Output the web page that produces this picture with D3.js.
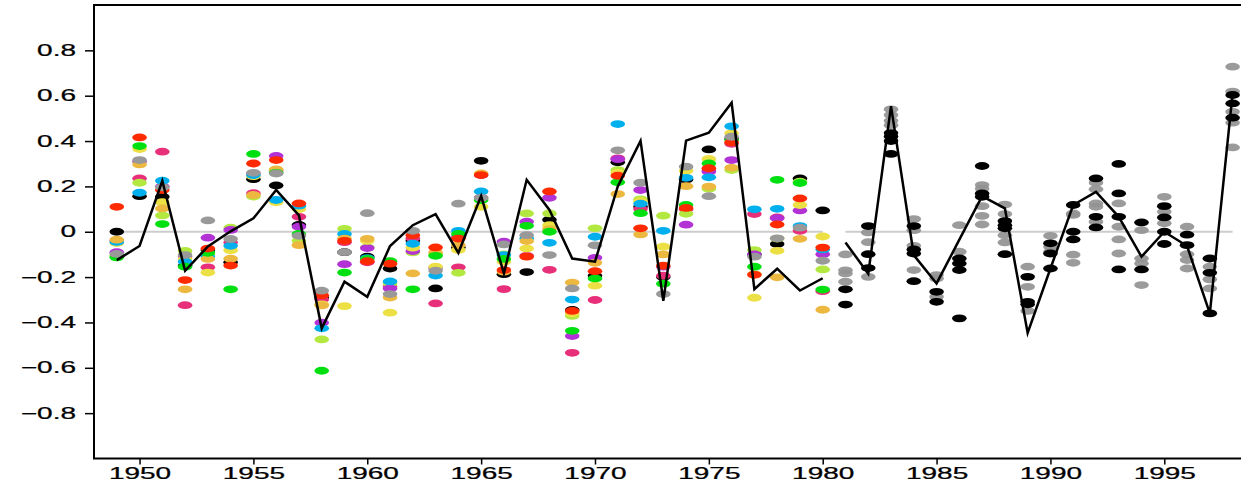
<!DOCTYPE html>
<html>
<head>
<meta charset="utf-8">
<script src="https://cdn.jsdelivr.net/npm/d3@7"></script>
<style>
  html, body { margin: 0; padding: 0; background: #fff; }
  svg { display: block; }
  text { font-family: "Liberation Sans", Arial, sans-serif; }
</style>
</head>
<body>
<svg id="chart" width="1241" height="488"></svg>
<script>
// ---------- DATA ----------
const years1 = d3.range(1949, 1981);   // 1949..1980
const years2 = d3.range(1981, 1999);   // 1981..1998

const seriesNames = ["black", "pink", "lime", "purple", "yellow", "cyan", "gold", "green", "red", "gray"];
const seriesColors = {
  red: "#ff2a00", green: "#00e010", yellow: "#ece044", gray: "#999999", gold: "#ecb840",
  pink: "#e8307a", lime: "#b2e840", cyan: "#00b0ee", purple: "#b232d6", black: "#000000"
};

const red    = [0.11,0.416,0.184,-0.213,-0.074,-0.149,0.301,0.316,0.125,-0.28,-0.04,-0.13,-0.141,-0.015,-0.069,-0.03,0.25,-0.169,-0.11,0.178,-0.349,-0.174,0.247,0.015,-0.15,0.105,0.28,0.395,-0.19,0.032,0.147,-0.07];
const green  = [-0.113,0.378,0.034,-0.154,-0.093,-0.254,0.343,0.26,-0.01,-0.613,-0.18,-0.12,-0.13,-0.254,-0.106,-0.01,0.14,-0.12,0.026,0.0,-0.437,-0.206,0.218,0.082,-0.229,0.118,0.301,0.405,-0.154,0.229,0.215,-0.255];
const yellow = [-0.05,0.365,0.13,-0.12,-0.18,-0.082,0.245,0.13,0.1,-0.32,-0.328,-0.04,-0.357,-0.07,-0.154,-0.081,0.11,-0.132,-0.074,0.029,-0.36,-0.238,0.26,0.135,-0.066,0.269,0.321,0.434,-0.291,-0.084,0.118,-0.021];
const gray   = [-0.098,0.316,0.196,-0.103,0.05,-0.032,0.26,0.257,-0.018,-0.26,-0.09,0.082,-0.275,0.004,-0.172,0.124,0.149,-0.056,-0.015,-0.103,-0.25,-0.06,0.359,0.216,-0.275,0.287,0.157,0.419,-0.11,-0.029,0.018,-0.128];
const gold   = [-0.035,0.297,0.103,-0.254,-0.12,-0.119,0.162,0.275,-0.059,-0.325,-0.03,-0.031,-0.29,-0.184,-0.091,-0.059,0.257,-0.176,-0.041,0.012,-0.224,-0.137,0.166,-0.012,-0.1,0.201,0.199,0.282,-0.187,-0.201,-0.031,-0.344];
const pink   = [-0.04,0.235,0.353,-0.324,-0.157,-0.047,0.17,0.27,0.066,-0.299,-0.046,-0.135,-0.243,-0.029,-0.316,-0.157,0.15,-0.253,-0.106,-0.168,-0.534,-0.301,0.324,0.1,-0.194,0.099,0.27,0.388,0.078,0.063,0.004,-0.262];
const lime   = [-0.105,0.216,0.072,-0.085,-0.1,0.018,0.155,0.265,-0.04,-0.475,0.013,-0.07,-0.228,-0.091,-0.1,-0.181,0.14,-0.1,0.081,0.081,-0.371,0.015,0.272,0.143,0.071,0.079,0.19,0.272,-0.081,-0.03,0.221,-0.166];
const cyan   = [-0.045,0.172,0.225,-0.132,-0.11,-0.062,0.25,0.14,0.115,-0.426,-0.01,-0.116,-0.219,-0.053,-0.193,0.004,0.178,-0.103,-0.03,-0.049,-0.299,-0.022,0.475,0.124,0.004,0.238,0.24,0.465,0.099,0.101,0.025,-0.078];
const purple = [-0.09,0.31,0.2,-0.11,-0.026,0.008,0.255,0.334,0.022,-0.401,-0.143,-0.072,-0.25,-0.085,-0.16,-0.022,0.25,-0.044,0.044,0.15,-0.46,-0.115,0.32,0.184,-0.154,0.031,0.265,0.316,-0.1,0.06,0.094,-0.099];
const black  = [0.0,0.157,0.154,-0.15,-0.08,-0.135,0.232,0.204,0.03,-0.29,-0.09,-0.11,-0.162,-0.04,-0.25,-0.07,0.313,-0.187,-0.178,0.053,-0.345,-0.194,0.306,0.11,-0.2,0.23,0.363,0.41,-0.1,-0.054,0.235,0.094];
const series1 = { red, green, yellow, gray, gold, pink, lime, cyan, purple, black };

// yearly line, two segments
const line1 = [-0.125,-0.063,0.225,-0.172,-0.065,0.002,0.059,0.184,0.072,-0.426,-0.22,-0.287,-0.063,0.029,0.078,-0.093,0.157,-0.184,0.229,0.096,-0.118,-0.132,0.2,0.401,-0.305,0.402,0.437,0.569,-0.253,-0.163,-0.259,-0.205];
const line2 = [-0.047,-0.185,0.554,-0.103,-0.228,-0.035,0.157,0.103,-0.446,-0.162,0.118,0.176,0.066,-0.11,0.0,-0.063,-0.36,0.61];

// later period: gray and black members per year (1981..1998)
const gray2 = [
  [-0.1,-0.17,-0.184,-0.22],
  [-0.003,-0.046,-0.199],
  [0.54,0.515,0.49,0.47],
  [0.056,0.007,-0.062,-0.169],
  [-0.191,-0.206,-0.287],
  [0.029,-0.088],
  [0.206,0.19,0.113,0.07,0.032],
  [0.12,0.078,-0.015,-0.047],
  [-0.154,-0.243,-0.349],
  [-0.018,-0.066,-0.088],
  [0.074,0.081,-0.101,-0.137],
  [0.216,0.187,0.125,0.11,0.044],
  [0.125,0.022,-0.034,-0.096],
  [0.007,-0.118,-0.14,-0.235],
  [0.154,0.088,0.037],
  [0.022,-0.099,-0.125,-0.162],
  [-0.154,-0.21,-0.25],
  [0.728,0.618,0.529,0.481,0.372]
];
const black2 = [
  [-0.254,-0.321],
  [0.025,-0.099,-0.16],
  [0.435,0.42,0.40,0.343],
  [0.025,-0.078,-0.096,-0.218],
  [-0.265,-0.309],
  [-0.118,-0.14,-0.169,-0.382],
  [0.29,0.169,0.154],
  [0.047,0.029,0.015,-0.099],
  [-0.199,-0.309,-0.32],
  [-0.051,-0.096,-0.162],
  [0.118,0.0,-0.034],
  [0.235,0.066,0.019],
  [0.299,0.169,0.066,-0.166],
  [0.041,-0.166],
  [0.113,0.063,0.0,-0.054],
  [-0.013,-0.059],
  [-0.118,-0.181,-0.36],
  [0.603,0.566,0.503]
];

const xTicks = [1950,1955,1960,1965,1970,1975,1980,1985,1990,1995];
const yTicks = [0.8,0.6,0.4,0.2,0,-0.2,-0.4,-0.6,-0.8];
const yTickLabels = ["0.8","0.6","0.4","0.2","0","\u22120.2","\u22120.4","\u22120.6","\u22120.8"];

// ---------- DRAW ----------
const svg = d3.select("#chart");
const L = 94, T = 5, B = 458.5, R = 1244;
const x = d3.scaleLinear().domain([1948, 1998.5]).range([L, R]);
const y = d3.scaleLinear().domain([-1, 1]).range([B, T]);
const SX = 1.75;

// zero reference lines
const zeroLine = d3.line().x(d => x(d)).y(() => y(0));
svg.append("path").attr("d", zeroLine([years1[0], years1[years1.length-1]]))
  .attr("stroke", "#cccccc").attr("stroke-width", 2).attr("fill", "none");
svg.append("path").attr("d", zeroLine([years2[0], years2[years2.length-1]]))
  .attr("stroke", "#cccccc").attr("stroke-width", 2).attr("fill", "none");

const RX = 7.3, RY = 3.9;

// early-period coloured members
seriesNames.forEach(name => {
  svg.append("g").selectAll("ellipse")
    .data(series1[name].map((v, i) => ({ yr: years1[i], v })))
    .join("ellipse")
    .attr("cx", d => x(d.yr)).attr("cy", d => y(d.v))
    .attr("rx", RX).attr("ry", RY)
    .attr("fill", seriesColors[name]);
});

// later-period members
const flat = (arr) => arr.flatMap((vals, i) => vals.map(v => ({ yr: years2[i], v })));
svg.append("g").selectAll("ellipse").data(flat(gray2)).join("ellipse")
  .attr("cx", d => x(d.yr)).attr("cy", d => y(d.v))
  .attr("rx", RX).attr("ry", RY).attr("fill", "#929292").attr("fill-opacity", 0.92);
svg.append("g").selectAll("ellipse").data(flat(black2)).join("ellipse")
  .attr("cx", d => x(d.yr)).attr("cy", d => y(d.v))
  .attr("rx", RX).attr("ry", RY).attr("fill", "#000");

// yearly line
const ln = d3.line().x(d => x(d.yr)).y(d => y(d.v));
svg.append("path").attr("d", ln(line1.map((v, i) => ({ yr: years1[i], v }))))
  .attr("fill", "none").attr("stroke", "#000").attr("stroke-width", 2.5).attr("stroke-linejoin", "miter");
svg.append("path").attr("d", ln(line2.map((v, i) => ({ yr: years2[i], v }))))
  .attr("fill", "none").attr("stroke", "#000").attr("stroke-width", 2.5).attr("stroke-linejoin", "miter");

// frame
svg.append("path")
  .attr("d", `M${R},${T}H${L}V${B}H${R}`)
  .attr("fill", "none").attr("stroke", "#000").attr("stroke-width", 2);

// axes
const yAxis = svg.append("g").attr("transform", `translate(${L},0)`)
  .call(d3.axisLeft(y).tickValues(yTicks).tickSize(9).tickPadding(9)
    .tickFormat((d, i) => yTickLabels[i]));
yAxis.select(".domain").remove();
yAxis.selectAll(".tick line").attr("stroke", "#000").attr("stroke-width", 1.5);
yAxis.selectAll(".tick text")
  .attr("font-size", 16).attr("font-family", "Liberation Sans, Arial, sans-serif").attr("fill", "#000")
  .attr("stroke", "#000").attr("stroke-width", 0.25)
  .attr("x", -18 / SX).attr("transform", `scale(${SX},1)`);

const xAxis = svg.append("g").attr("transform", `translate(0,${B})`)
  .call(d3.axisBottom(x).tickValues(xTicks).tickSize(6).tickPadding(3).tickFormat(d3.format("d")));
xAxis.select(".domain").remove();
xAxis.selectAll(".tick line").attr("stroke", "#000").attr("stroke-width", 1.5);
xAxis.selectAll(".tick text")
  .attr("font-size", 16).attr("font-family", "Liberation Sans, Arial, sans-serif").attr("fill", "#000")
  .attr("stroke", "#000").attr("stroke-width", 0.25)
  .attr("transform", `scale(${SX},1)`);
</script>
</body>
</html>
